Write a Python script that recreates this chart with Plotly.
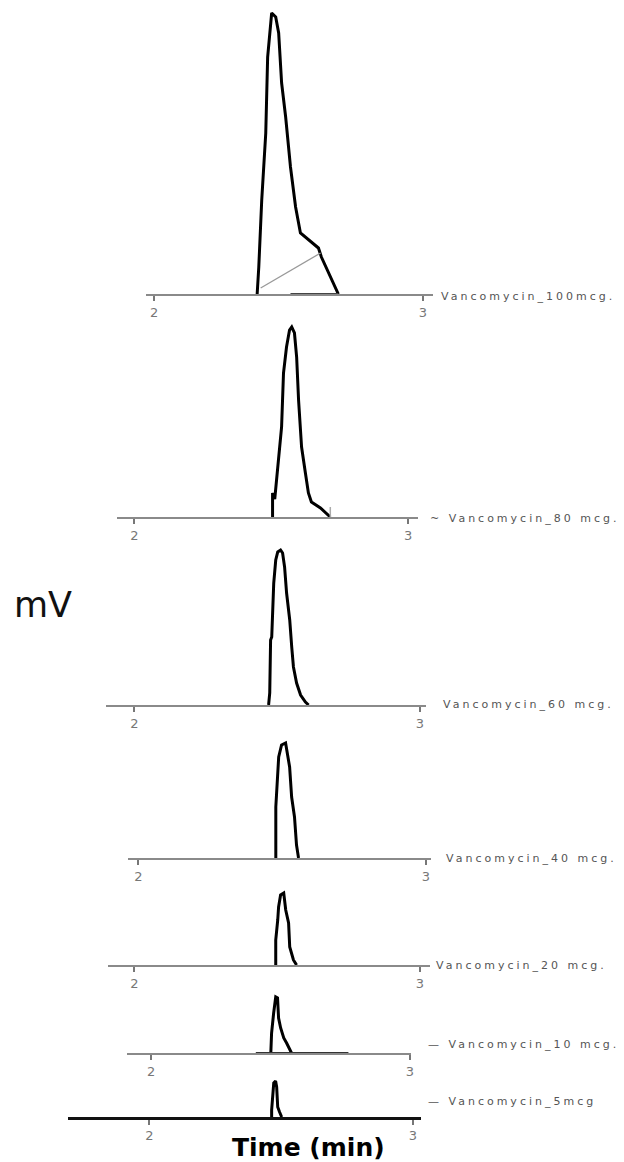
import plotly.graph_objects as go

W, H = 624, 1162

# ---------------- data (time in min, signal in mV) ----------------
labels = ["Vancomycin_100mcg.", "~ Vancomycin_80 mcg.", "Vancomycin_60 mcg.",
          "Vancomycin_40 mcg.", "Vancomycin_20 mcg.", "— Vancomycin_10 mcg.",
          "— Vancomycin_5mcg"]

t100 = [2.383, 2.389, 2.400, 2.415, 2.422, 2.433, 2.437, 2.452, 2.463, 2.474,
        2.489, 2.507, 2.526, 2.544, 2.574, 2.611, 2.622, 2.648, 2.685]
mv100 = [0, 27, 94, 161, 237, 274, 281, 277, 261, 211, 177, 127, 87, 61, 54, 46, 37, 21, 0]

t80 = [2.505, 2.505, 2.513, 2.527, 2.538, 2.545, 2.556, 2.567, 2.575, 2.585,
       2.593, 2.600, 2.611, 2.625, 2.636, 2.647, 2.680, 2.716]
mv80 = [0, 24, 18, 57, 90, 144, 170, 187, 190, 184, 160, 117, 70, 44, 24, 15, 9, 0]

t60 = [2.470, 2.474, 2.477, 2.481, 2.488, 2.495, 2.502, 2.512, 2.519, 2.526,
       2.533, 2.544, 2.551, 2.557, 2.568, 2.582, 2.599, 2.610]
mv60 = [0, 12, 65, 68, 122, 145, 153, 155, 152, 138, 112, 85, 58, 38, 22, 10, 3, 0]

t40 = [2.478, 2.478, 2.488, 2.498, 2.512, 2.516, 2.526, 2.533, 2.543, 2.550, 2.557]
mv40 = [0, 51, 101, 113, 115, 108, 91, 61, 41, 13, 0]

t20 = [2.495, 2.495, 2.502, 2.505, 2.512, 2.523, 2.530, 2.540, 2.544, 2.557, 2.568]
mv20 = [0, 25, 45, 58, 70, 72, 55, 42, 18, 5, 0]

t10 = [2.462, 2.465, 2.473, 2.481, 2.488, 2.492, 2.500, 2.512, 2.523, 2.542]
mv10 = [0, 20, 40, 56, 55, 35, 25, 15, 10, 0]

t5 = [2.464, 2.464, 2.472, 2.479, 2.483, 2.487, 2.494, 2.502]
mv5 = [0, 7, 34, 36, 30, 10, 5, 0]

# integration baseline of the 100 mcg peak
t100_base = [2.396, 2.619]
mv100_base = [6, 41]
# integration marks on the baselines
t100_seg = [2.507, 2.685]
t80_mark = [2.716, 2.716]
mv80_mark = [0, 10]
t10_seg = [2.404, 2.762]

tick_vals = [2, 3]
tick_text = ["2", "3"]

series_t = [t100, t80, t60, t40, t20, t10, t5]
series_mv = [mv100, mv80, mv60, mv40, mv20, mv10, mv5]

# ---------------- layout (pixels) ----------------
panels = [
    dict(l=147, r=435, t2=155, t3=425, y=294, top=8),
    dict(l=118, r=420, t2=135, t3=410, y=517, top=322),
    dict(l=107, r=428, t2=135, t3=422, y=705, top=545),
    dict(l=129, r=433, t2=139, t3=428, y=858, top=738),
    dict(l=109, r=432, t2=135, t3=422, y=965, top=888),
    dict(l=128, r=413, t2=152, t3=412, y=1053, top=992),
    dict(l=68, r=423, t2=150, t3=415, y=1117, top=1076),
]
label_pos = [(441, 296), (430, 518), (443, 704), (446, 858), (436, 965),
             (428, 1044), (428, 1101)]

fig = go.Figure()
layout = dict(width=W, height=H, margin=dict(l=0, r=0, t=0, b=0),
              paper_bgcolor="white", plot_bgcolor="rgba(0,0,0,0)",
              showlegend=False)

for i, p in enumerate(panels):
    n = "" if i == 0 else str(i + 1)
    xa, ya = "x" + n, "y" + n
    ppm = (p["t3"] - p["t2"])  # pixels per minute
    x0 = 2 + (p["l"] - p["t2"]) / ppm
    x1 = 2 + (p["r"] - p["t2"]) / ppm
    hpx = p["y"] - p["top"]
    axis_color = "#111111" if i == 6 else "#8a8a8a"
    layout["xaxis" + n] = dict(
        domain=[p["l"] / W, p["r"] / W], range=[x0, x1], anchor=ya,
        showline=True, linecolor=axis_color, linewidth=2.5 if i == 6 else 2,
        ticks="outside", ticklen=5, tickwidth=1.5, tickcolor="#777777",
        tickvals=tick_vals, ticktext=tick_text, showgrid=False, zeroline=False,
        tickfont=dict(family="DejaVu Sans", size=13, color="#777777"),
        fixedrange=True)
    layout["yaxis" + n] = dict(
        domain=[1 - p["y"] / H, 1 - p["top"] / H], range=[0, hpx],
        anchor=xa, visible=False, fixedrange=True)

    fig.add_trace(go.Scatter(x=series_t[i], y=series_mv[i], mode="lines",
                             line=dict(color="black", width=3),
                             xaxis=xa, yaxis=ya, cliponaxis=False))

    lx, ly = label_pos[i]
    layout.setdefault("annotations", []).append(dict(
        text='<span style="letter-spacing:3px">' + labels[i] + '</span>',
        xref="paper", yref="paper", x=lx / W, y=1 - ly / H,
        xanchor="left", yanchor="middle", showarrow=False,
        font=dict(family="DejaVu Sans", size=11, color="#555555")))

# extra integration marks
fig.add_trace(go.Scatter(x=t100_base, y=mv100_base, mode="lines",
                         line=dict(color="#999999", width=1.3), xaxis="x", yaxis="y"))
fig.add_trace(go.Scatter(x=t100_seg, y=[0, 0], mode="lines",
                         line=dict(color="#444444", width=2), xaxis="x", yaxis="y",
                         cliponaxis=False))
fig.add_trace(go.Scatter(x=t80_mark, y=mv80_mark, mode="lines",
                         line=dict(color="#aaaaaa", width=1.5), xaxis="x2", yaxis="y2"))
fig.add_trace(go.Scatter(x=t10_seg, y=[0, 0], mode="lines",
                         line=dict(color="#333333", width=2), xaxis="x6", yaxis="y6",
                         cliponaxis=False))

layout["annotations"].append(dict(
    text="mV", xref="paper", yref="paper", x=12 / W, y=1 - 605 / H,
    xanchor="left", yanchor="middle", showarrow=False,
    font=dict(family="DejaVu Sans", size=35, color="#111111")))
layout["annotations"].append(dict(
    text="<b>Time (min)</b>", xref="paper", yref="paper", x=310 / W, y=1 - 1147 / H,
    xanchor="center", yanchor="middle", showarrow=False,
    font=dict(family="DejaVu Sans", size=25, color="#000000")))

fig.update_layout(**layout)
fig.write_html("out.html", config={"displayModeBar": False},
               post_script="document.body.style.margin='0px';")
